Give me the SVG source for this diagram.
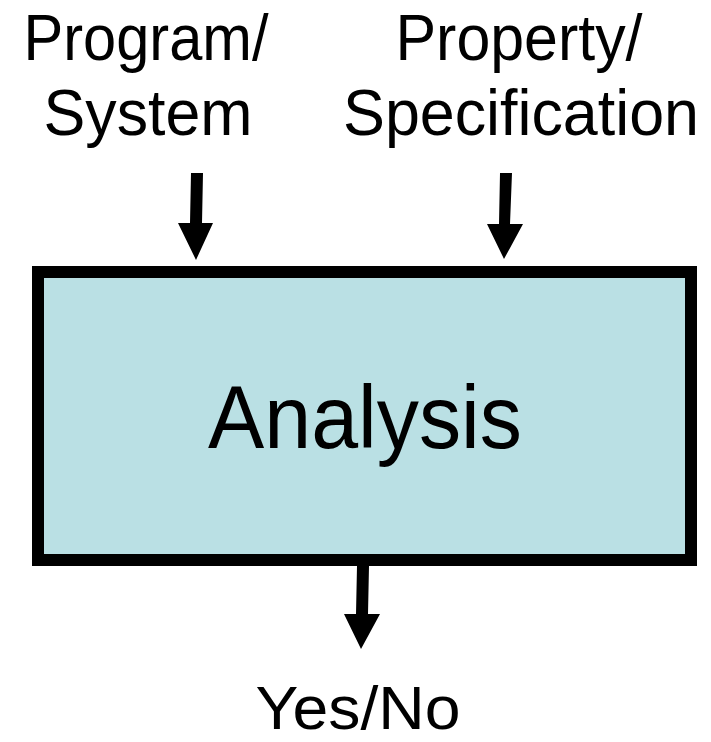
<svg xmlns="http://www.w3.org/2000/svg" width="711" height="742" viewBox="0 0 711 742">
  <style>
    .lbl { font-family: "Liberation Sans", Arial, sans-serif; fill: #000; text-anchor: middle; }
    .box { fill: #bae0e4; stroke: #000; stroke-width: 12; }
    .arrow { fill: #000; stroke: none; }
  </style>
  <rect width="711" height="742" fill="#fff"/>

  <g id="input-program">
    <text class="lbl" x="146" y="60" font-size="64" textLength="245" lengthAdjust="spacingAndGlyphs">Program/</text>
    <text class="lbl" x="148" y="135" font-size="64" textLength="209" lengthAdjust="spacingAndGlyphs">System</text>
  </g>

  <g id="input-property">
    <text class="lbl" x="519" y="60" font-size="64" textLength="247" lengthAdjust="spacingAndGlyphs">Property/</text>
    <text class="lbl" x="521" y="135" font-size="64" textLength="356" lengthAdjust="spacingAndGlyphs">Specification</text>
  </g>

  <g id="analysis">
    <rect class="box" x="38" y="272" width="653" height="288"/>
    <text class="lbl" x="365" y="448" font-size="89" textLength="314" lengthAdjust="spacingAndGlyphs">Analysis</text>
  </g>

  <g id="output">
    <text class="lbl" x="358" y="729" font-size="62" textLength="205" lengthAdjust="spacingAndGlyphs">Yes/No</text>
  </g>

  <g id="connectors">
    <path class="arrow" d="M191,173 L203,173 L202,223 L213,223 L196,260 L178,223 L190,223 Z"/>
    <path class="arrow" d="M500,173 L512,173 L510,224 L523,224 L504,259 L487,224 L499,224 Z"/>
    <path class="arrow" d="M357,566 L369,566 L368,614 L380,614 L361,649 L344,614 L356,614 Z"/>
  </g>
</svg>
